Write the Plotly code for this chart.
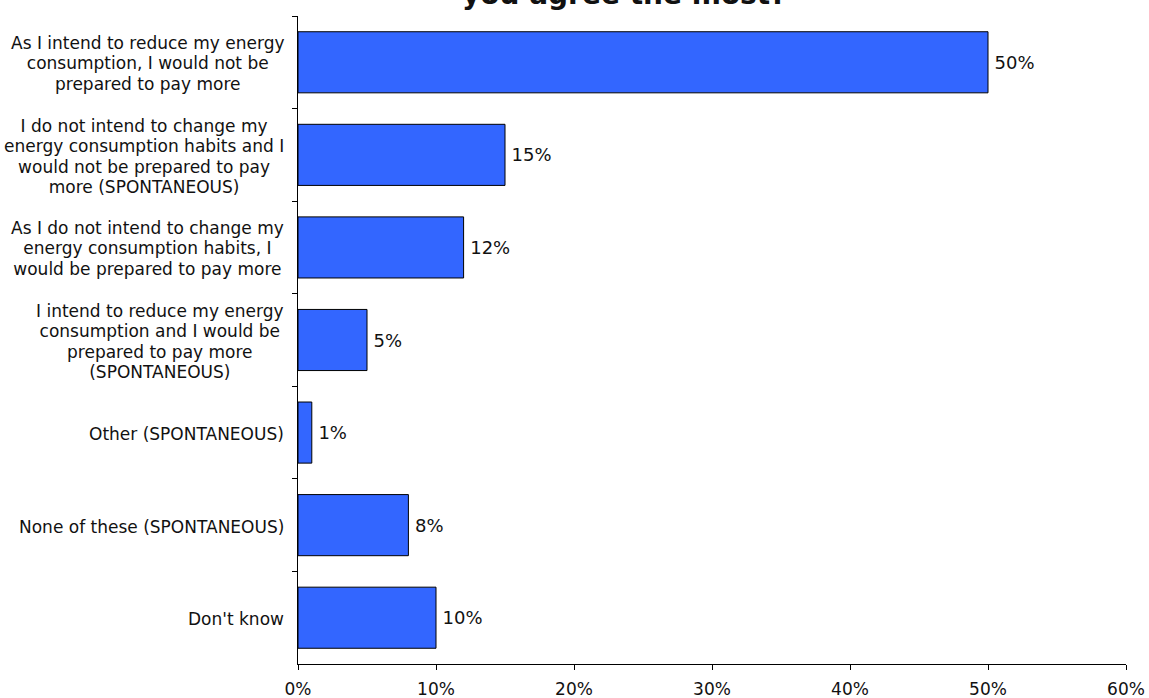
import plotly.graph_objects as go

# Survey answers, top to bottom, with the share of respondents (%)
categories = [
    "As I intend to reduce my energy<br>consumption, I would not be<br>prepared to pay more",
    "I do not intend to change my<br>energy consumption habits and I<br>would not be prepared to pay<br>more (SPONTANEOUS)",
    "As I do not intend to change my<br>energy consumption habits, I<br>would be prepared to pay more",
    "I intend to reduce my energy<br>consumption and I would be<br>prepared to pay more<br>(SPONTANEOUS)",
    "Other (SPONTANEOUS)",
    "None of these (SPONTANEOUS)",
    "Don't know",
]
values = [50, 15, 12, 5, 1, 8, 10]
x_ticks = [0, 10, 20, 30, 40, 50, 60]
title_text = "you agree the most?"

W, H = 1149, 698
L, R, T, B = 298, 23, 15.7, 34
plot_h = H - T - B
plot_w = W - L - R

FONT = "DejaVu Sans, Verdana, sans-serif"
LABEL_PX = 17         # glyph size of the category labels
LABEL_LINE_PX = 20.4  # distance between their lines (plotly uses 1.3 x base size)

fig = go.Figure(
    go.Bar(
        x=values,
        y=categories,
        orientation="h",
        marker=dict(color="#3366FF", line=dict(color="black", width=1)),
        text=[f"\u2009{v}%" for v in values],
        textposition="outside",
        textfont=dict(family=FONT, size=18, color="#111111"),
        constraintext="none",
        cliponaxis=False,
        hoverinfo="skip",
    )
)

# Category labels, centre-aligned per line, placed left of the axis
for cat in categories:
    lines = cat.split("<br>")
    styled = "<br>".join(
        f"<span style='font-size:{LABEL_PX}px'>{ln}</span>" for ln in lines
    )
    fig.add_annotation(
        x=-12 / plot_w, xref="paper", xanchor="right",
        y=cat, yref="y", yanchor="middle", yshift=-1.5,
        text=styled, align="center", showarrow=False,
        font=dict(family=FONT, size=LABEL_LINE_PX / 1.3, color="#111111"),
    )

# Chart title (only its last line falls inside the page)
fig.add_annotation(
    x=(624 - L) / plot_w, xref="paper", xanchor="center",
    y=1 + (T + 6) / plot_h, yref="paper", yanchor="middle",
    text=f"<b>{title_text}</b>", showarrow=False,
    font=dict(family=FONT, size=28, color="#111111"),
)

fig.update_layout(
    width=W, height=H,
    margin=dict(l=L, r=R, t=T, b=B, pad=0, autoexpand=False),
    paper_bgcolor="white", plot_bgcolor="white",
    bargap=0.34,
    showlegend=False,
    font=dict(family=FONT, color="#111111"),
)
fig.update_xaxes(
    range=[0, 60],
    tickvals=x_ticks,
    ticktext=[f"{t}%" for t in x_ticks],
    ticks="outside", ticklen=5, tickcolor="black", tickwidth=1,
    ticklabelstandoff=5,
    automargin=False,
    showline=True, linecolor="black", linewidth=1,
    showgrid=False, zeroline=False,
    tickfont=dict(family=FONT, size=17, color="#111111"),
)
fig.update_yaxes(
    autorange="reversed",
    type="category",
    showticklabels=False,
    automargin=False,
    ticks="outside", ticklen=5, tickcolor="black", tickwidth=1,
    tickson="boundaries",
    showline=True, linecolor="black", linewidth=1,
    showgrid=False, zeroline=False,
)

fig.write_html("out.html")
